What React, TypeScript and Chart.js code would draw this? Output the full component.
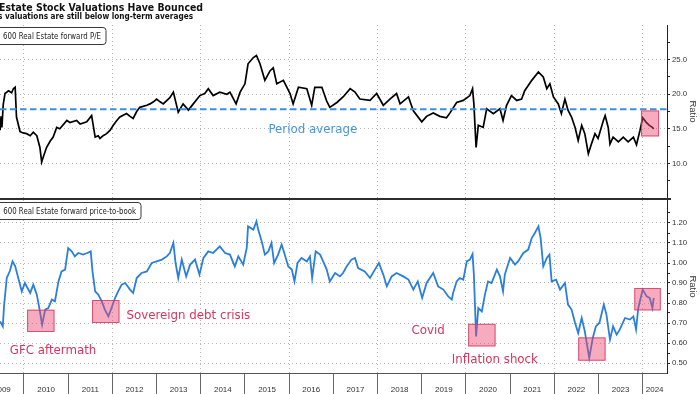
import React, { useEffect, useRef } from 'react';
import { Chart, registerables } from 'chart.js';
Chart.register(...registerables);

// ---------- data ----------
const peYears = [2009.46,2009.48,2009.50,2009.53,2009.57,2009.65,2009.72,2009.76,2009.80,2009.83,2009.91,2009.98,2010.06,2010.14,2010.21,2010.29,2010.36,2010.40,2010.44,2010.51,2010.59,2010.66,2010.74,2010.81,2010.97,2011.04,2011.19,2011.27,2011.42,2011.53,2011.61,2011.68,2011.72,2011.79,2011.87,2011.95,2012.02,2012.10,2012.17,2012.32,2012.40,2012.47,2012.55,2012.62,2012.78,2012.85,2012.93,2013.00,2013.08,2013.15,2013.30,2013.38,2013.49,2013.60,2013.72,2013.83,2013.98,2014.09,2014.17,2014.28,2014.43,2014.59,2014.66,2014.80,2014.89,2015.00,2015.07,2015.19,2015.26,2015.34,2015.45,2015.57,2015.64,2015.72,2015.87,2016.02,2016.09,2016.21,2016.40,2016.51,2016.58,2016.74,2016.85,2016.92,2017.08,2017.22,2017.38,2017.49,2017.60,2017.83,2017.98,2018.13,2018.28,2018.43,2018.51,2018.70,2018.81,2019.00,2019.11,2019.26,2019.41,2019.56,2019.64,2019.79,2019.94,2020.09,2020.15,2020.18,2020.23,2020.28,2020.39,2020.47,2020.62,2020.77,2020.84,2020.92,2021.03,2021.15,2021.26,2021.33,2021.49,2021.64,2021.75,2021.83,2021.90,2021.98,2022.09,2022.16,2022.24,2022.31,2022.39,2022.47,2022.54,2022.62,2022.69,2022.77,2022.84,2022.92,2022.99,2023.11,2023.15,2023.22,2023.26,2023.33,2023.45,2023.56,2023.67,2023.79,2023.86,2023.94,2024.00,2024.07,2024.15,2024.22,2024.25];
const peValues = [14.8,16.8,15.2,18.5,20.1,20.5,20.2,20.8,21.0,16.7,14.6,14.4,14.3,14.0,14.5,14.0,12.3,10.2,11.0,12.3,13.2,13.8,15.2,15.0,16.2,15.9,16.2,15.7,16.0,16.9,13.8,14.0,13.6,14.0,14.3,14.8,15.5,16.2,16.7,17.2,16.8,16.5,17.5,18.1,18.4,18.6,18.9,19.3,18.9,18.6,19.5,20.3,17.4,18.6,17.7,18.6,19.8,20.1,20.8,19.8,20.3,20.0,20.3,18.6,20.3,21.5,24.4,25.3,25.6,24.4,22.0,23.4,23.8,21.5,22.0,20.1,18.6,21.0,20.8,18.4,21.0,21.0,19.0,18.1,18.8,19.6,20.8,20.3,19.3,19.1,20.1,18.4,19.3,20.1,18.6,19.6,17.6,16.0,16.8,17.3,16.8,16.6,17.3,18.8,19.1,19.8,20.8,18.6,12.3,15.5,15.2,17.9,17.2,17.9,16.2,18.4,19.8,19.1,19.3,20.5,22.0,23.2,22.5,20.8,21.5,19.6,18.6,17.2,19.3,17.7,16.7,15.2,13.3,15.5,14.3,11.4,12.8,14.3,13.6,16.2,16.9,15.2,12.8,13.8,13.1,13.8,13.1,13.8,12.7,14.8,16.6,16.0,15.5,15.2,15.0];

const pbYears = [2009.46,2009.52,2009.55,2009.61,2009.68,2009.74,2009.80,2009.87,2009.95,2010.02,2010.14,2010.21,2010.29,2010.36,2010.41,2010.48,2010.55,2010.63,2010.70,2010.78,2010.85,2010.93,2011.00,2011.08,2011.15,2011.23,2011.34,2011.43,2011.51,2011.55,2011.61,2011.68,2011.76,2011.83,2011.91,2011.98,2012.06,2012.13,2012.21,2012.29,2012.40,2012.47,2012.55,2012.66,2012.78,2012.89,2013.00,2013.12,2013.23,2013.30,2013.38,2013.43,2013.49,2013.57,2013.67,2013.76,2013.87,2013.97,2014.06,2014.17,2014.28,2014.43,2014.55,2014.66,2014.77,2014.85,2014.96,2015.04,2015.07,2015.19,2015.26,2015.30,2015.38,2015.45,2015.53,2015.60,2015.66,2015.75,2015.83,2015.90,2015.98,2016.06,2016.12,2016.19,2016.28,2016.40,2016.47,2016.52,2016.60,2016.70,2016.77,2016.85,2016.92,2017.04,2017.15,2017.22,2017.30,2017.41,2017.49,2017.56,2017.71,2017.83,2017.94,2018.03,2018.13,2018.21,2018.32,2018.43,2018.58,2018.70,2018.81,2018.91,2019.01,2019.11,2019.26,2019.37,2019.49,2019.60,2019.68,2019.71,2019.79,2019.86,2019.94,2020.02,2020.09,2020.15,2020.18,2020.23,2020.28,2020.36,2020.43,2020.50,2020.58,2020.70,2020.77,2020.84,2020.88,2021.00,2021.11,2021.18,2021.30,2021.41,2021.49,2021.56,2021.64,2021.69,2021.75,2021.83,2021.89,2021.94,2022.04,2022.13,2022.24,2022.31,2022.39,2022.47,2022.54,2022.62,2022.69,2022.79,2022.87,2022.94,2023.02,2023.12,2023.18,2023.26,2023.33,2023.41,2023.48,2023.60,2023.71,2023.79,2023.85,2023.90,2024.00,2024.09,2024.16,2024.22,2024.25];
const pbValues = [0.708,0.683,0.79,0.925,0.96,1.008,0.985,0.925,0.858,0.90,0.85,0.892,0.842,0.758,0.692,0.767,0.775,0.817,0.808,0.908,0.958,0.967,1.075,1.058,1.033,1.05,1.042,1.05,1.058,0.958,0.858,0.842,0.808,0.767,0.733,0.775,0.825,0.858,0.892,0.90,0.867,0.85,0.925,0.95,0.958,1.0,1.008,1.017,1.033,1.05,1.10,1.0,0.925,1.017,0.933,0.992,1.017,0.942,1.025,1.058,1.05,1.083,1.05,1.042,0.983,1.033,0.992,1.075,1.183,1.167,1.208,1.167,1.108,1.042,1.058,1.10,1.0,1.042,1.092,1.042,0.983,0.967,0.908,1.0,1.025,1.008,1.033,0.925,1.058,1.042,1.008,0.967,0.908,0.95,0.933,0.95,0.983,1.017,1.025,0.975,0.958,0.925,0.967,1.0,0.942,0.883,0.933,0.95,0.933,0.917,0.867,0.908,0.825,0.90,0.95,0.883,0.867,0.833,0.817,0.85,0.908,0.925,0.917,1.008,1.017,1.045,0.942,0.633,0.775,0.758,0.842,0.908,0.90,0.967,0.933,0.858,0.942,1.025,0.992,1.008,1.05,1.067,1.125,1.15,1.183,1.125,0.983,1.025,1.042,0.908,0.917,0.867,0.90,0.792,0.767,0.70,0.65,0.725,0.658,0.525,0.625,0.683,0.70,0.792,0.742,0.617,0.683,0.642,0.667,0.725,0.717,0.733,0.667,0.775,0.867,0.833,0.825,0.775,0.825];

const yearTicks = [2010,2011,2012,2013,2014,2015,2016,2017,2018,2019,2020,2021,2022,2023,2024];
const yearLabels = ['2009','2010','2011','2012','2013','2014','2015','2016','2017','2018','2019','2020','2021','2022','2023','2024'];
const yearLabelPos = [2009.5,2010.5,2011.5,2012.5,2013.5,2014.5,2015.5,2016.5,2017.5,2018.5,2019.5,2020.5,2021.5,2022.5,2023.5,2024.27];
const xMin = 2009.457;
const xMax = 2024.55;

const peMajorTicks = [10, 15, 20, 25];
const peMinorTicks = [7.5, 12.5, 17.5, 22.5, 27.5];
const pbMajorTicks = [0.5, 0.6, 0.7, 0.8, 0.9, 1.0, 1.1, 1.2];
const pbMinorTicks = [0.55, 0.65, 0.75, 0.85, 0.95, 1.05, 1.15, 1.25];

const peAverage = 17.83;
const peAverageLabel = 'Period average';
const peAverageLabelAt = [2015.53, 14.36];
const peBoxX = [2023.96, 2024.37];
const peBoxY = [13.9, 17.65];

const pbBoxX0 = [2010.07, 2011.54, 2020.05, 2022.54, 2023.81];
const pbBoxX1 = [2010.69, 2012.16, 2020.67, 2023.16, 2024.41];
const pbBoxLow = [0.655, 0.70, 0.583, 0.5115, 0.763];
const pbBoxHigh = [0.7665, 0.815, 0.696, 0.628, 0.875];

const noteTexts = ['GFC aftermath', 'Sovereign debt crisis', 'Covid', 'Inflation shock'];
const noteX = [2009.68, 2012.32, 2018.77, 2019.68];
const noteY = [0.5465, 0.719, 0.6465, 0.5015];

const titleText = 'Estate Stock Valuations Have Bounced';
const subtitleText = 's valuations are still below long-term averages';
const peLegend = '600 Real Estate forward P/E';
const pbLegend = '600 Real Estate forward price-to-book';
const axisTitle = 'Ratio';

// ---------- helpers ----------
const GRID = '#b4b4b4';
const NOTE_RED = '#d8345c';
const AVG_BLUE = '#3f8fe0';

function fitText(ctx: CanvasRenderingContext2D, s: string, x: number, y: number, font: string, color: string, width?: number) {
  ctx.save();
  ctx.font = font;
  ctx.fillStyle = color;
  ctx.textAlign = 'left';
  ctx.textBaseline = 'alphabetic';
  if (width) {
    const w = ctx.measureText(s).width;
    ctx.translate(x, y);
    ctx.scale(width / w, 1);
    ctx.fillText(s, 0, 0);
  } else {
    ctx.fillText(s, x, y);
  }
  ctx.restore();
}

function drawBox(ctx: CanvasRenderingContext2D, xs: any, ys: any, x0: number, x1: number, lo: number, hi: number) {
  const L = xs.getPixelForValue(x0);
  const R = xs.getPixelForValue(x1);
  const T = ys.getPixelForValue(hi);
  const B = ys.getPixelForValue(lo);
  ctx.save();
  ctx.fillStyle = 'rgba(236, 70, 110, 0.45)';
  ctx.fillRect(L, T, R - L, B - T);
  ctx.strokeStyle = 'rgba(210, 55, 95, 0.8)';
  ctx.lineWidth = 1;
  ctx.strokeRect(L + 0.5, T + 0.5, R - L - 1, B - T - 1);
  ctx.restore();
}

function legendBox(ctx: CanvasRenderingContext2D, x: number, y: number, w: number, h: number, text: string, tx: number, ty: number, tw: number) {
  ctx.save();
  ctx.beginPath();
  (ctx as any).roundRect(x + 0.5, y + 0.5, w, h, 3);
  ctx.fillStyle = '#ffffff';
  ctx.fill();
  ctx.strokeStyle = '#3a3a3a';
  ctx.lineWidth = 1;
  ctx.stroke();
  ctx.restore();
  fitText(ctx, text, tx, ty, '9.5px "DejaVu Sans"', '#222', tw);
}

function xScale(bottom: boolean) {
  return {
    type: 'linear',
    min: xMin,
    max: xMax,
    afterBuildTicks: (s: any) => { s.ticks = yearTicks.map((v) => ({ value: v })); },
    afterFit: (s: any) => { s.height = bottom ? 21 : 0; s.paddingLeft = 0; s.paddingRight = 0; },
    ticks: { display: false },
    grid: {
      color: (c: any) => (c.tick && c.tick.value % 2 === 0 ? GRID : 'rgba(0,0,0,0)'),
      lineWidth: 1,
      drawTicks: bottom,
      tickLength: 21,
      tickColor: '#666',
      tickWidth: 1,
    },
    border: { display: bottom, color: '#555', width: 1, dash: [1, 3] },
  };
}

function yScale(min: number, max: number, major: number[], minor: number[], digits: number) {
  const all = [...major, ...minor].sort((a, b) => a - b);
  return {
    type: 'linear',
    position: 'right',
    min,
    max,
    afterBuildTicks: (s: any) => { s.ticks = all.map((v) => ({ value: v })); },
    afterFit: (s: any) => { s.width = 33; s.paddingTop = 0; s.paddingBottom = 0; },
    ticks: {
      autoSkip: false,
      padding: 2,
      color: '#333',
      font: { family: '"Liberation Sans", Arial, sans-serif', size: 7.8 },
      callback: (v: number) => (major.some((m) => Math.abs(m - v) < 1e-9) ? Number(v).toFixed(digits) : ''),
    },
    grid: {
      color: (c: any) => (c.tick && major.some((m) => Math.abs(m - c.tick.value) < 1e-9) ? GRID : 'rgba(0,0,0,0)'),
      lineWidth: 1,
      drawTicks: true,
      tickLength: 3,
      tickColor: '#222',
      tickWidth: 1,
    },
    border: { display: true, color: '#222', width: 1, dash: [1, 3] },
    title: {
      display: true,
      text: axisTitle,
      color: '#333',
      font: { family: '"Liberation Sans", Arial, sans-serif', size: 9.5 },
      padding: { top: 1.5, bottom: 0 },
    },
  };
}

const topOverlay = {
  id: 'topOverlay',
  afterDraw(chart: any) {
    const { ctx, chartArea } = chart;
    const xs = chart.scales.x;
    const ys = chart.scales.y;
    const ya = ys.getPixelForValue(peAverage);
    ctx.save();
    ctx.strokeStyle = AVG_BLUE;
    ctx.lineWidth = 2;
    ctx.setLineDash([6.5, 3.5]);
    ctx.beginPath();
    ctx.moveTo(chartArea.left, ya);
    ctx.lineTo(chartArea.right, ya);
    ctx.stroke();
    ctx.restore();
    drawBox(ctx, xs, ys, peBoxX[0], peBoxX[1], peBoxY[0], peBoxY[1]);
    fitText(ctx, peAverageLabel, xs.getPixelForValue(peAverageLabelAt[0]), ys.getPixelForValue(peAverageLabelAt[1]), '11.8px "DejaVu Sans"', '#4a96de');
    legendBox(ctx, -5, 27, 110.5, 17, peLegend, 3, 38.5, 98);
    fitText(ctx, titleText, -1, 10.7, 'bold 11px "DejaVu Sans"', '#111', 204);
    fitText(ctx, subtitleText, -2, 19, 'bold 8.8px "DejaVu Sans"', '#111', 195);
  },
};

const bottomOverlay = {
  id: 'bottomOverlay',
  afterDraw(chart: any) {
    const { ctx } = chart;
    const xs = chart.scales.x;
    const ys = chart.scales.y;
    for (let i = 0; i < pbBoxX0.length; i++) {
      drawBox(ctx, xs, ys, pbBoxX0[i], pbBoxX1[i], pbBoxLow[i], pbBoxHigh[i]);
    }
    for (let i = 0; i < noteTexts.length; i++) {
      fitText(ctx, noteTexts[i], xs.getPixelForValue(noteX[i]), ys.getPixelForValue(noteY[i]), '11.8px "DejaVu Sans"', NOTE_RED);
    }
    // panel separator
    ctx.save();
    ctx.fillStyle = '#2e2e2e';
    ctx.fillRect(0, 0, 671, 2);
    ctx.restore();
    legendBox(ctx, -5, 4, 145.5, 17, pbLegend, 3.3, 16.3, 132.7);
    // year labels
    ctx.save();
    ctx.font = '8px "Liberation Sans", Arial, sans-serif';
    ctx.fillStyle = '#333';
    ctx.textAlign = 'center';
    ctx.textBaseline = 'alphabetic';
    for (let i = 0; i < yearLabels.length; i++) {
      ctx.fillText(yearLabels[i], xs.getPixelForValue(yearLabelPos[i]), 193.5);
    }
    ctx.restore();
  },
};

export default function App() {
  const topRef = useRef<HTMLCanvasElement>(null);
  const botRef = useRef<HTMLCanvasElement>(null);

  useEffect(() => {
    document.body.style.margin = '0';
    const c1 = new Chart(topRef.current as HTMLCanvasElement, {
      type: 'line',
      data: {
        datasets: [{
          data: peYears.map((x, i) => ({ x, y: peValues[i] })),
          borderColor: '#000000',
          borderWidth: 1.7,
          pointRadius: 0,
          tension: 0,
          fill: false,
        }],
      },
      options: {
        animation: false,
        responsive: false,
        devicePixelRatio: 1,
        layout: { padding: { top: 25, left: 0, right: 0, bottom: 0 } },
        plugins: { legend: { display: false }, tooltip: { enabled: false } },
        scales: {
          x: xScale(false) as any,
          y: yScale(5, 30, peMajorTicks, peMinorTicks, 1) as any,
        },
      },
      plugins: [topOverlay],
    });
    const c2 = new Chart(botRef.current as HTMLCanvasElement, {
      type: 'line',
      data: {
        datasets: [{
          data: pbYears.map((x, i) => ({ x, y: pbValues[i] })),
          borderColor: '#2a7fdc',
          borderWidth: 1.8,
          pointRadius: 0,
          tension: 0,
          fill: false,
        }],
      },
      options: {
        animation: false,
        responsive: false,
        devicePixelRatio: 1,
        layout: { padding: { top: 2, left: 0, right: 0, bottom: 0 } },
        plugins: { legend: { display: false }, tooltip: { enabled: false } },
        scales: {
          x: xScale(true) as any,
          y: yScale(0.45, 1.315, pbMajorTicks, pbMinorTicks, 2) as any,
        },
      },
      plugins: [bottomOverlay],
    });
    return () => { c1.destroy(); c2.destroy(); };
  }, []);

  return (
    <div style={{ position: 'relative', width: 700, height: 394, background: '#ffffff', overflow: 'hidden' }}>
      <canvas ref={topRef} width={700} height={198} style={{ position: 'absolute', left: 0, top: 0, display: 'block' }} />
      <canvas ref={botRef} width={700} height={196} style={{ position: 'absolute', left: 0, top: 198, display: 'block' }} />
    </div>
  );
}
